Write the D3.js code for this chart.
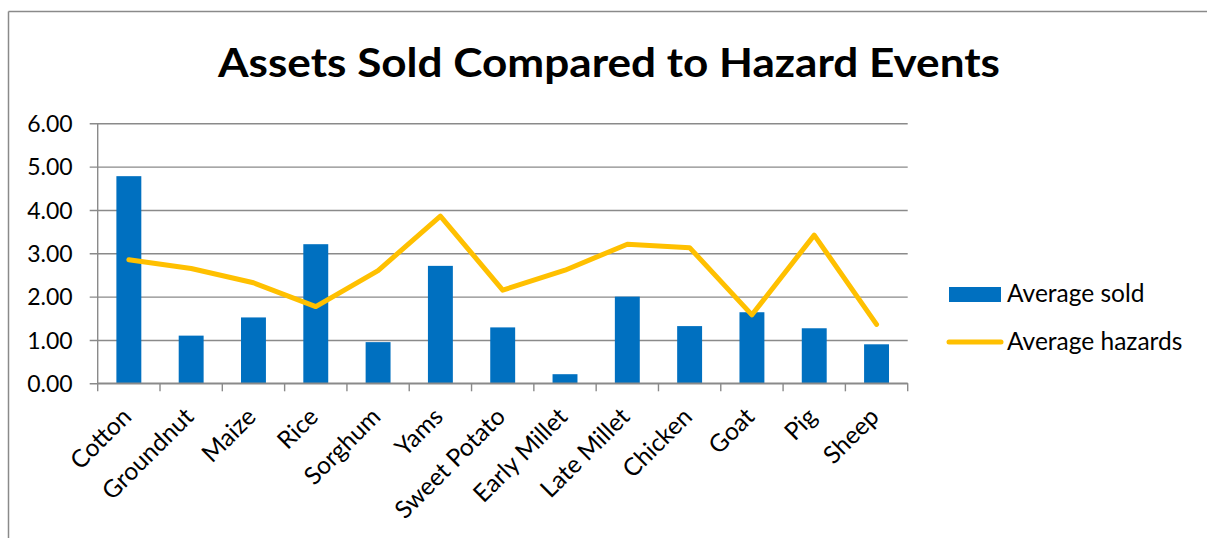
<!DOCTYPE html>
<html>
<head>
<meta charset="utf-8">
<script src="https://cdn.jsdelivr.net/npm/d3@7"></script>
<style>
  html, body { margin: 0; padding: 0; background: #fff; }
  svg { display: block; }
  text { font-family: Lato, "Open Sans", sans-serif; fill: #000; }
</style>
</head>
<body>
<svg id="chart" width="1207" height="538"></svg>
<script>
const categories = ["Cotton", "Groundnut", "Maize", "Rice", "Sorghum", "Yams", "Sweet Potato", "Early Millet", "Late Millet", "Chicken", "Goat", "Pig", "Sheep"];
const averageSold = [4.78, 1.10, 1.52, 3.21, 0.95, 2.71, 1.29, 0.21, 2.00, 1.32, 1.64, 1.27, 0.90];
const averageHazards = [2.85, 2.65, 2.32, 1.77, 2.60, 3.86, 2.15, 2.61, 3.21, 3.13, 1.58, 3.42, 1.36];
const yTicks = [0, 1, 2, 3, 4, 5, 6];
const seriesNames = ["Average sold", "Average hazards"];
const titleText = "Assets Sold Compared to Hazard Events";

const svg = d3.select("#chart");
const W = 1207, H = 538;
const plot = { left: 97.7, right: 907.7, top: 123.3, bottom: 383.3 };
const blue = "#0070C0", yellow = "#FFC000", grid = "#8a8a8a";

// outer border (top & left visible)
svg.append("line").attr("x1", 8.5).attr("x2", W + 5).attr("y1", 11.5).attr("y2", 11.5)
  .attr("stroke", "#8a8a8a").attr("stroke-width", 1.5);
svg.append("line").attr("x1", 8.5).attr("x2", 8.5).attr("y1", 11.5).attr("y2", H + 5)
  .attr("stroke", "#8a8a8a").attr("stroke-width", 1.5);

// title
svg.append("text")
  .attr("x", 609).attr("y", 77)
  .attr("text-anchor", "middle")
  .attr("font-size", 41).attr("font-weight", 700)
  .attr("textLength", 782).attr("lengthAdjust", "spacingAndGlyphs")
  .text(titleText);

const x = d3.scaleBand().domain(categories).range([plot.left, plot.right])
  .paddingInner(0.6).paddingOuter(0.3);
const step = x.step();
const y = d3.scaleLinear().domain([0, 6]).range([plot.bottom, plot.top]);

// gridlines + y labels
const gY = svg.append("g").attr("transform", `translate(${plot.left - 8},0)`)
  .call(d3.axisRight(y).tickValues(yTicks).tickFormat(d3.format(".2f"))
    .tickSize(plot.right - plot.left + 8));
gY.select(".domain").remove();
gY.selectAll(".tick line").attr("stroke", grid).attr("stroke-width", 1.4);
gY.selectAll(".tick text")
  .attr("x", -17).attr("dy", "0.35em")
  .attr("text-anchor", "end")
  .attr("font-size", 23)
  .attr("font-family", "Lato, 'Open Sans', sans-serif")
  .attr("fill", "#000");

// y axis line
svg.append("line").attr("x1", plot.left).attr("x2", plot.left)
  .attr("y1", plot.top).attr("y2", plot.bottom)
  .attr("stroke", grid).attr("stroke-width", 1.4);

// bars
svg.append("g").selectAll("rect").data(categories).join("rect")
  .attr("x", d => x(d))
  .attr("width", x.bandwidth())
  .attr("y", (d, i) => y(averageSold[i]))
  .attr("height", (d, i) => y(0) - y(averageSold[i]))
  .attr("fill", blue);

// x axis line & ticks at category boundaries
svg.append("line").attr("x1", plot.left).attr("x2", plot.right)
  .attr("y1", plot.bottom).attr("y2", plot.bottom)
  .attr("stroke", grid).attr("stroke-width", 1.4);
const boundaries = categories.map(c => x(c) - step * 0.3).concat([plot.right]);
svg.append("g").selectAll("line").data(boundaries).join("line")
  .attr("x1", d => d).attr("x2", d => d)
  .attr("y1", plot.bottom).attr("y2", plot.bottom + 8)
  .attr("stroke", grid).attr("stroke-width", 1.4);

// x labels
svg.append("g").selectAll("text").data(categories).join("text")
  .attr("transform", d => `translate(${x(d) + x.bandwidth() / 2 + 4},${plot.bottom + 35}) rotate(-45)`)
  .attr("text-anchor", "end")
  .attr("font-size", 24.5)
  .text(d => d);

// line
const line = d3.line()
  .x((d, i) => x(categories[i]) + x.bandwidth() / 2)
  .y(d => y(d));
svg.append("path").datum(averageHazards)
  .attr("d", line)
  .attr("fill", "none")
  .attr("stroke", yellow)
  .attr("stroke-width", 5)
  .attr("stroke-linejoin", "round")
  .attr("stroke-linecap", "round");

// legend
const lg = svg.append("g");
lg.append("rect").attr("x", 949).attr("y", 287).attr("width", 52).attr("height", 15).attr("fill", blue);
lg.append("text").attr("x", 1007).attr("y", 302).attr("font-size", 24.5).text(seriesNames[0]);
lg.append("line").attr("x1", 949).attr("x2", 1001).attr("y1", 342).attr("y2", 342)
  .attr("stroke", yellow).attr("stroke-width", 5).attr("stroke-linecap", "round");
lg.append("text").attr("x", 1007).attr("y", 350).attr("font-size", 24.5).text(seriesNames[1]);
</script>
</body>
</html>
